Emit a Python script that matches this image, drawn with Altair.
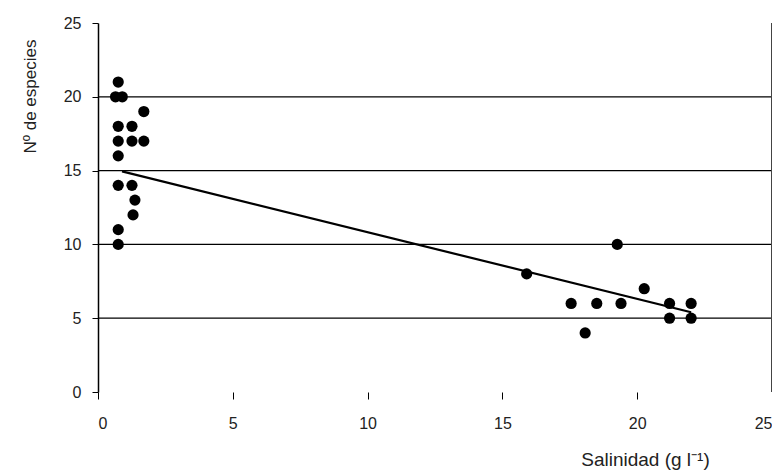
import altair as alt
import pandas as pd

# Data
salinidad = [0.75, 0.65, 0.9, 0.75, 0.75, 0.75, 0.75, 0.75, 0.75,
             1.26, 1.26, 1.7, 1.7, 1.26, 1.37, 1.3,
             15.9, 19.26, 17.55, 18.5, 19.4, 18.07, 20.26, 21.2, 21.2, 22.0, 22.0]
especies = [21, 20, 20, 18, 17, 16, 14, 11, 10,
            18, 17, 17, 19, 14, 13, 12,
            8, 10, 6, 6, 6, 4, 7, 6, 5, 6, 5]

trend_x = [0.89, 22.0]
trend_y = [14.95, 5.4]

grid_values = [5, 10, 15, 20]
tick_values = [0, 5, 10, 15, 20, 25]
right_border = [25]

FONT = "Liberation Sans Narrow, Liberation Sans, Arial, sans-serif"

pts = pd.DataFrame({"x": salinidad, "y": especies})
trend = pd.DataFrame({"x": trend_x, "y": trend_y})
grid = pd.DataFrame({"y": grid_values})
border = pd.DataFrame({"x": right_border})

xscale = alt.Scale(domain=[0, 25], nice=False, zero=True)
yscale = alt.Scale(domain=[0, 25], nice=False, zero=True)

xaxis = alt.Axis(
    values=tick_values, domain=False, grid=False, ticks=True, tickSize=7,
    tickColor="#000", tickWidth=1, labelFont=FONT, labelFontSize=16,
    labelColor="#222", labelPadding=16, title="Salinidad (g l\u207b\u00b9)",
    titleFont=FONT, titleFontSize=19, titleFontWeight="normal", titleColor="#222",
    titleX=547, titleY=67, titleAlign="center", titleBaseline="middle",
)
yaxis = alt.Axis(
    values=tick_values, domain=True, domainColor="#000", domainWidth=1.5,
    grid=False, ticks=True, tickSize=6, tickColor="#000", labelFont=FONT,
    labelFontSize=16, labelColor="#222", labelPadding=11,
    title="N\u00ba de especies", titleFont=FONT, titleFontSize=17,
    titleFontWeight="normal", titleColor="#222", titleX=-68, titleY=73,
    titleAlign="center", titleBaseline="middle", titleAngle=270,
)

grid_layer = alt.Chart(grid).mark_rule(color="#000", strokeWidth=1.3).encode(
    y=alt.Y("y:Q", scale=yscale, axis=yaxis)
)
border_layer = alt.Chart(border).mark_rule(color="#444", strokeWidth=2).encode(
    x=alt.X("x:Q", scale=xscale, axis=xaxis)
)
trend_layer = alt.Chart(trend).mark_line(color="#000", strokeWidth=2.2).encode(
    x=alt.X("x:Q", scale=xscale, axis=xaxis),
    y=alt.Y("y:Q", scale=yscale, axis=yaxis),
)
point_layer = alt.Chart(pts).mark_point(
    filled=True, shape="circle", size=125, color="#000", opacity=1
).encode(
    x=alt.X("x:Q", scale=xscale, axis=xaxis),
    y=alt.Y("y:Q", scale=yscale, axis=yaxis),
)

chart = alt.layer(grid_layer, border_layer, trend_layer, point_layer).properties(
    width=674, height=369,
    padding={"left": 90, "top": 15, "right": 0, "bottom": 80},
    autosize=alt.AutoSizeParams(type="none"),
    background="white",
).configure_view(stroke=None)

chart.save("out.html", embed_options={"renderer": "svg", "actions": False})
